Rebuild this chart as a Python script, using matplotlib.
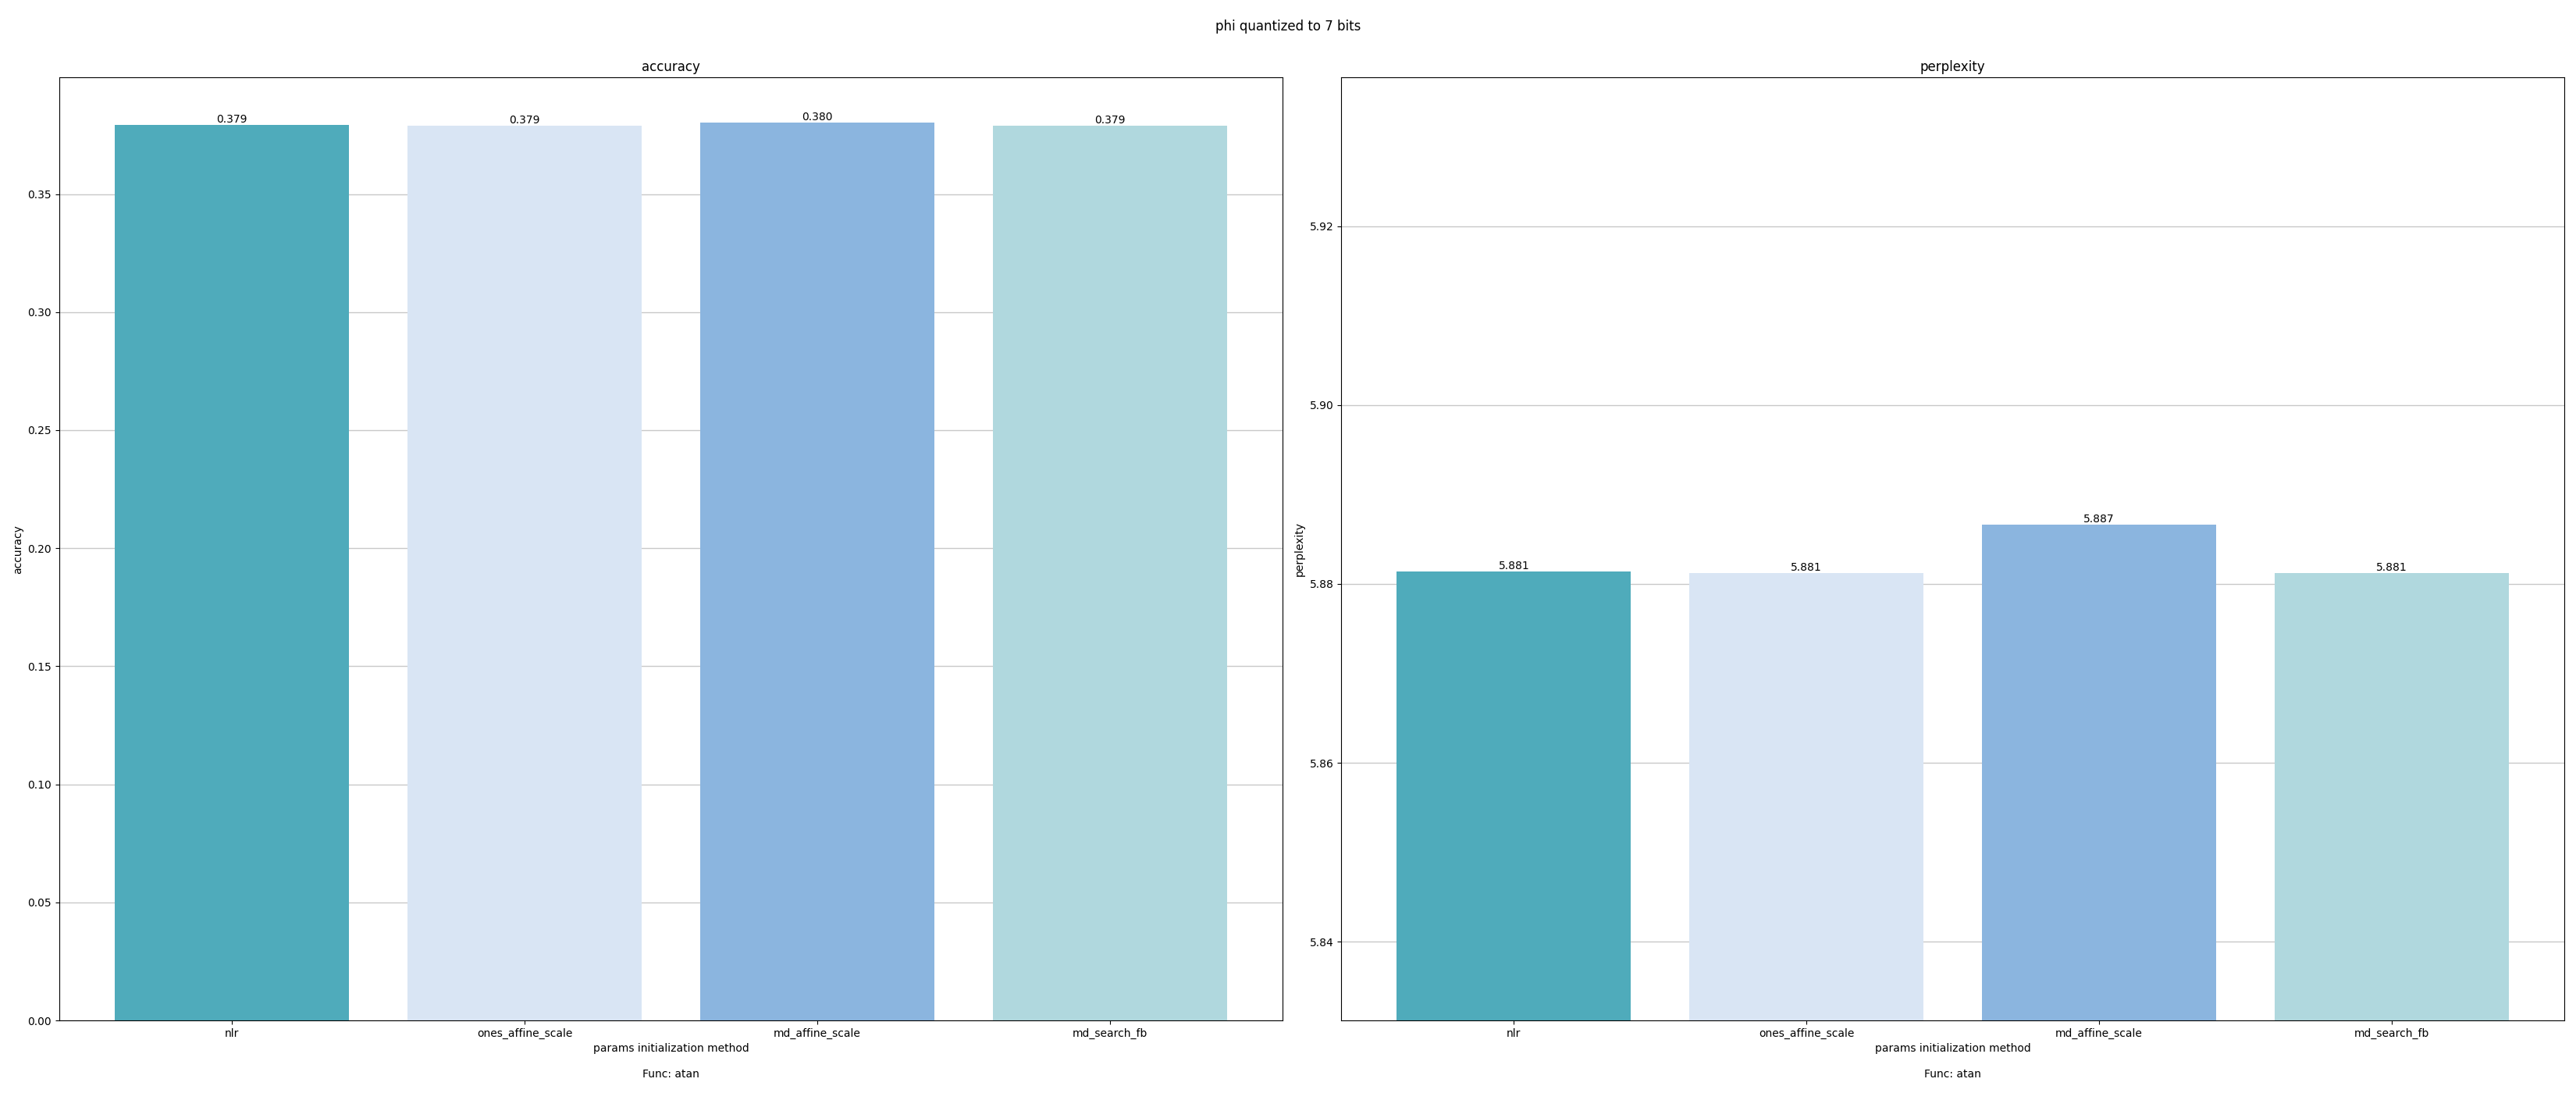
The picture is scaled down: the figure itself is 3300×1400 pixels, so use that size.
import matplotlib
matplotlib.use("Agg")
import matplotlib.pyplot as plt

methods = ["nlr", "ones_affine_scale", "md_affine_scale", "md_search_fb"]
accuracy = [0.3792, 0.3790, 0.3803, 0.3791]
perplexity = [5.8814, 5.8812, 5.8866, 5.8812]
colors = ["#4fabbb", "#d9e5f4", "#8bb5df", "#b0d8de"]

plt.rcParams["font.family"] = ["DejaVu Sans"]

fig, axes = plt.subplots(1, 2, figsize=(33, 14), dpi=100)
fig.subplots_adjust(left=0.023, right=0.9955, bottom=0.0664, top=0.929, wspace=0.048)
fig.suptitle("phi quantized to 7 bits", y=0.982)

for ax, vals, name in [(axes[0], accuracy, "accuracy"), (axes[1], perplexity, "perplexity")]:
    ax.set_axisbelow(True)
    ax.grid(axis="y", color="#c8c8c8", linewidth=1)
    bars = ax.bar(range(len(methods)), vals, width=0.8, color=colors)
    ax.bar_label(bars, fmt="%.3f")
    ax.set_xticks(range(len(methods)))
    ax.set_xticklabels(methods)
    ax.set_title(name)
    ax.set_ylabel(name)
    ax.set_xlabel("params initialization method\n\nFunc: atan")

axes[0].set_ylim(0, max(accuracy) * 1.05)
axes[1].set_ylim(min(perplexity) - 0.05, max(perplexity) + 0.05)

fig.savefig("out.png", dpi=100)
